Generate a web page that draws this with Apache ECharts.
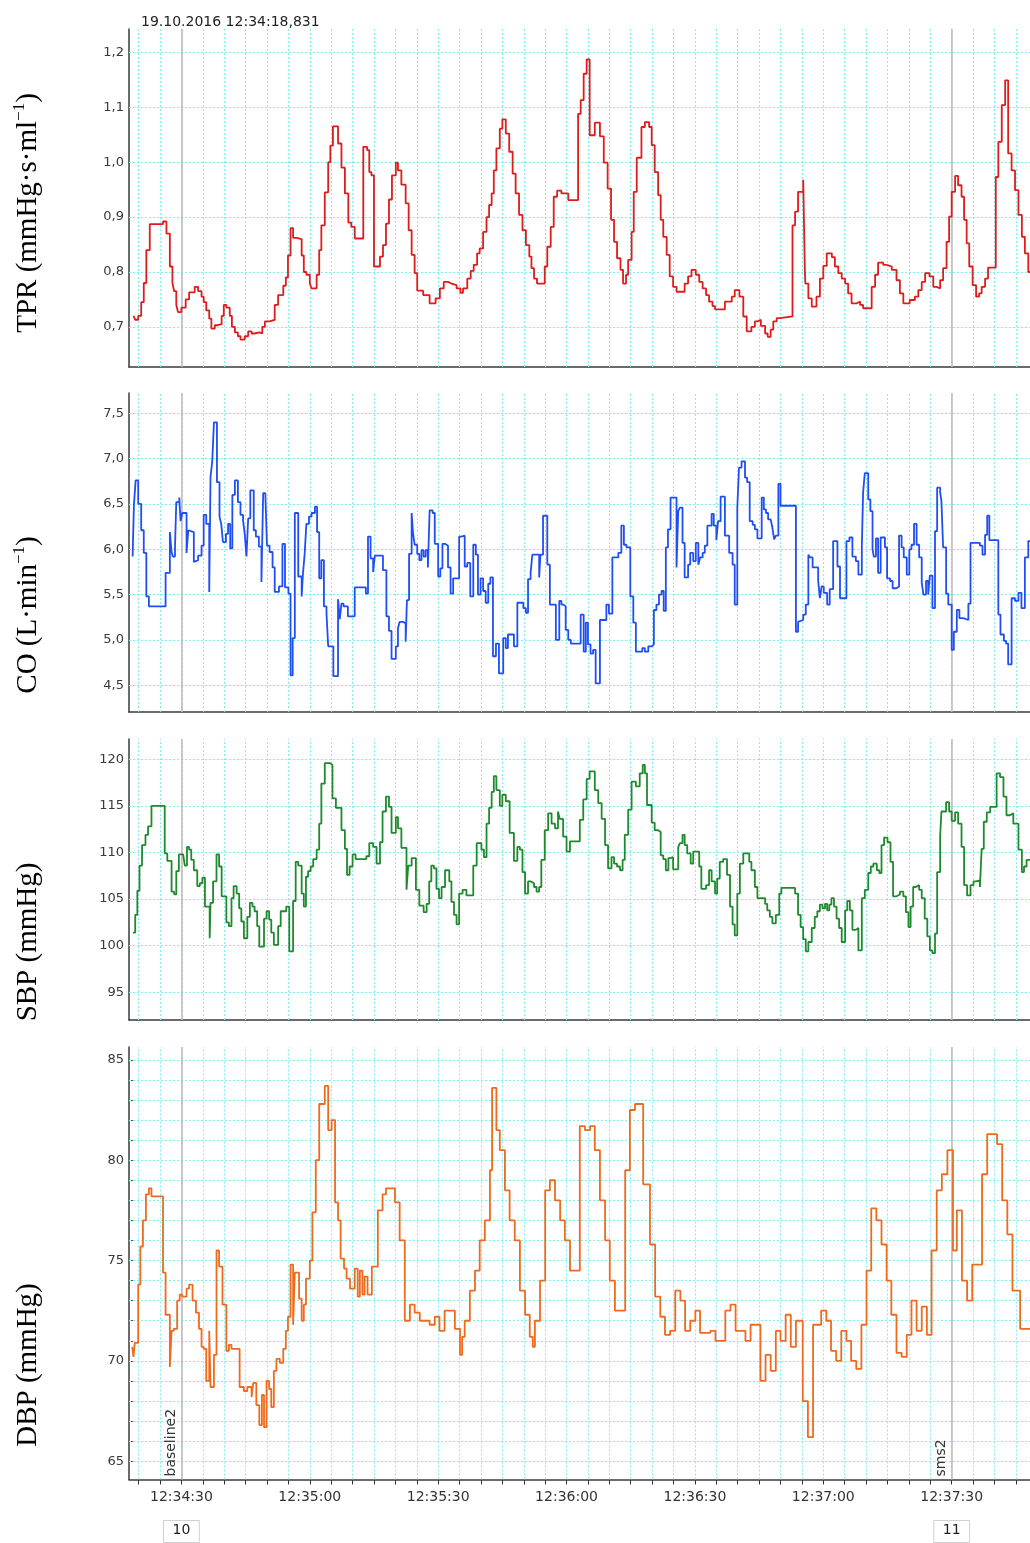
<!DOCTYPE html>
<html><head><meta charset="utf-8">
<script src="https://cdn.jsdelivr.net/npm/echarts@6/dist/echarts.min.js"></script>
<style>html,body{margin:0;padding:0;background:#fff}#c{width:1030px;height:1543px}</style>
</head><body><div id="c"></div>
<script>
// time axis: seconds after 12:34:00
const headerText = '19.10.2016 12:34:18,831';
const xMin = 17.75, xMax = 228.3;
const xTickSeconds = [20,25,30,35,40,45,50,55,60,65,70,75,80,85,90,95,100,105,110,115,120,125,130,135,140,145,150,155,160,165,170,175,180,185,190,195,200,205,210,215,220,225];
const xLabelSeconds = [30,60,90,120,150,180,210];
const eventTimes = [30,210];
const eventNames = ['baseline2','sms2'];
const eventIds = ['10','11'];

const tprTicks = [0.7,0.8,0.9,1.0,1.1,1.2];
const coTicks = [4.5,5.0,5.5,6.0,6.5,7.0,7.5];
const sbpTicks = [95,100,105,110,115,120];
const dbpTicks = [65,70,75,80,85];
const dbpMinorTicks = [65,66,67,68,69,70,71,72,73,74,75,76,77,78,79,80,81,82,83,84,85];

const tprData = [[18.8,0.72],[19.2,0.713],[19.9,0.72],[20.6,0.745],[21.2,0.78],[21.8,0.84],[22.6,0.887],[25.7,0.892],[26.5,0.87],[27.3,0.81],[27.9,0.78],[28.3,0.765],[28.8,0.74],[29.2,0.727],[30,0.735],[31,0.75],[31.8,0.763],[33.1,0.773],[33.9,0.765],[34.7,0.755],[35.2,0.745],[35.8,0.73],[36.5,0.715],[37,0.697],[37.8,0.703],[38.3,0.705],[39.4,0.72],[39.9,0.74],[40.5,0.735],[41.3,0.72],[41.8,0.70],[42.5,0.69],[43.2,0.683],[43.8,0.677],[44.8,0.683],[45.6,0.692],[46.4,0.688],[47.1,0.69],[48.3,0.688],[48.9,0.70],[49.5,0.71],[50.6,0.713],[51.8,0.74],[52.6,0.758],[53.8,0.775],[54.4,0.79],[54.9,0.83],[55.5,0.88],[56.1,0.862],[56.9,0.86],[58.1,0.83],[58.6,0.80],[59.2,0.795],[60,0.78],[60.4,0.77],[61.6,0.795],[62.2,0.84],[62.7,0.885],[63.5,0.945],[64.3,1.0],[64.8,1.03],[65.4,1.065],[66.6,1.034],[67.4,0.99],[68.2,0.943],[69,0.89],[69.7,0.882],[70.5,0.861],[72.5,1.028],[73.4,1.022],[73.9,0.982],[74.4,0.976],[75,0.81],[76.4,0.828],[77.1,0.849],[77.8,0.888],[78.5,0.932],[79.2,0.976],[80.1,0.999],[80.6,0.985],[81.4,0.959],[82.4,0.925],[83.1,0.876],[83.8,0.831],[84.5,0.798],[85.1,0.766],[86.5,0.758],[88,0.743],[89.4,0.752],[90.4,0.77],[91.3,0.782],[92.3,0.779],[93.1,0.776],[94.3,0.77],[95.2,0.762],[95.8,0.77],[96.8,0.788],[97.6,0.802],[98.3,0.813],[99.1,0.834],[99.7,0.843],[100.5,0.873],[101.3,0.9],[101.9,0.922],[102.5,0.943],[103,0.985],[103.6,1.025],[104.4,1.061],[105,1.078],[105.8,1.052],[106.6,1.019],[107.4,0.979],[108.1,0.943],[108.9,0.904],[109.7,0.876],[110.5,0.849],[111.3,0.828],[111.8,0.807],[112.4,0.788],[113.1,0.779],[114.9,0.81],[115.5,0.846],[116.3,0.882],[117,0.937],[117.8,0.948],[118.8,0.943],[120.4,0.931],[122.7,1.088],[123.3,1.113],[124,1.161],[124.7,1.187],[125.4,1.049],[126.6,1.072],[127.8,1.047],[128.7,0.999],[129.6,0.952],[130.4,0.895],[131.1,0.855],[131.8,0.825],[132.6,0.804],[133.2,0.779],[133.9,0.795],[134.4,0.822],[135.2,0.873],[135.7,0.946],[136.4,1.008],[137.5,1.064],[138.3,1.073],[139.3,1.064],[139.9,1.031],[140.6,0.982],[141.4,0.94],[142,0.895],[142.6,0.864],[143.4,0.831],[144.1,0.792],[144.9,0.773],[145.7,0.764],[147.6,0.779],[148.4,0.792],[149.2,0.804],[150.2,0.795],[151,0.782],[151.8,0.77],[152.6,0.758],[153.3,0.746],[154.1,0.738],[154.7,0.732],[157,0.746],[158.6,0.755],[159.3,0.767],[160.4,0.755],[161.3,0.719],[162.1,0.692],[163.2,0.70],[164,0.71],[164.6,0.713],[165.4,0.702],[166.4,0.688],[167,0.682],[167.7,0.695],[168.3,0.71],[169.1,0.716],[169.9,0.719],[172.8,0.885],[173.4,0.91],[174.1,0.946],[175.3,0.968],[175.7,0.798],[175.8,0.779],[176.5,0.752],[177.3,0.737],[178.4,0.755],[179.2,0.788],[180,0.811],[180.8,0.834],[182,0.827],[182.7,0.81],[183.5,0.798],[184.3,0.788],[185.1,0.779],[185.8,0.761],[186.6,0.743],[187.8,0.746],[188.6,0.74],[189.3,0.734],[191.3,0.773],[192.1,0.795],[192.8,0.817],[194,0.813],[194.8,0.81],[196,0.804],[197.1,0.785],[197.9,0.761],[198.7,0.743],[200.2,0.749],[201.4,0.755],[202.2,0.767],[203,0.782],[203.8,0.798],[204.8,0.792],[205.7,0.773],[206.5,0.77],[207.3,0.785],[208,0.807],[208.8,0.855],[209.4,0.901],[210,0.946],[210.8,0.975],[211.5,0.958],[212.3,0.937],[212.9,0.895],[213.5,0.852],[214.1,0.81],[214.9,0.776],[215.7,0.755],[216.4,0.761],[217,0.773],[217.8,0.788],[218.5,0.808],[220.3,0.973],[220.9,1.037],[221.7,1.104],[222.5,1.149],[223.2,1.016],[224,0.985],[224.8,0.949],[225.6,0.904],[226.4,0.864],[227.1,0.834],[227.9,0.80],[228.5,0.80]];

const coData = [[18.6,5.92],[18.9,6.49],[19.3,6.76],[19.9,6.5],[20.6,6.21],[21.2,5.96],[21.8,5.48],[22.4,5.37],[26.3,5.74],[27.3,6.19],[27.7,5.97],[28.0,5.92],[28.5,6.03],[28.8,6.52],[29.5,6.57],[29.8,6.31],[30.2,6.4],[31.2,5.96],[31.6,6.21],[32,6.19],[32.9,5.86],[33.3,5.88],[33.9,5.93],[34.7,6.04],[35.2,6.38],[35.8,6.28],[36.5,5.53],[36.8,6.8],[37.2,6.97],[37.6,7.4],[38.3,6.74],[38.9,6.36],[39.3,6.28],[39.7,6.08],[40.4,6.17],[40.9,6.28],[41.4,6.01],[41.9,6.6],[42.5,6.76],[43.2,6.52],[43.8,6.38],[44.4,6.32],[44.8,6.17],[45.2,5.92],[45.6,6.34],[46.1,6.65],[46.9,6.21],[47.4,6.14],[48.1,6.03],[48.7,5.64],[49.1,6.62],[49.6,6.6],[50,6.04],[50.6,5.97],[51.3,5.8],[51.8,5.53],[52.8,5.59],[53.6,6.06],[54.2,5.58],[55,5.51],[55.5,4.61],[56,5.02],[56.5,6.4],[57.3,5.7],[58.1,5.48],[58.4,5.73],[58.8,5.95],[59.2,6.28],[59.8,6.36],[60.4,6.4],[61.2,6.47],[61.7,6.19],[62.2,5.68],[62.7,5.88],[63.3,5.37],[63.9,5.29],[64.3,4.93],[65.5,4.6],[66.6,5.45],[67,5.23],[67.4,5.4],[67.9,5.37],[68.9,5.26],[70.5,5.58],[73.1,5.51],[73.6,6.14],[74.2,5.9],[74.8,5.75],[75.2,5.93],[77.1,5.77],[77.9,5.26],[78.5,5.1],[79.1,4.79],[80.1,4.93],[80.6,5.13],[81,5.2],[81.8,5.18],[82.4,4.98],[82.7,5.44],[83.2,5.95],[83.8,6.4],[84.1,6.19],[84.5,6.05],[85.1,5.95],[85.6,5.88],[86.1,5.99],[86.6,5.92],[87.1,5.99],[87.6,5.8],[88,6.43],[88.7,6.4],[89.2,6.06],[90,5.7],[90.5,5.79],[91,6.06],[91.6,6.04],[92.3,5.8],[92.9,5.51],[93.5,5.68],[94.9,6.14],[95.4,6.15],[96.2,5.81],[96.8,5.85],[97.5,5.48],[98.2,6.05],[98.8,5.94],[99.3,5.5],[99.9,5.68],[100.5,5.54],[101.1,5.41],[101.7,5.62],[102.2,5.69],[102.8,4.82],[103.5,4.96],[104.2,4.63],[105.2,5.02],[105.8,4.91],[106.3,5.06],[107.7,4.93],[108.5,5.41],[109.9,5.35],[110.5,5.3],[111,5.67],[111.6,5.74],[112,5.94],[113.6,5.69],[113.9,5.94],[114.5,6.37],[115.5,5.83],[116.1,5.39],[117.5,5.0],[118.3,5.43],[118.8,5.39],[119.3,5.37],[119.8,5.11],[120.4,5.0],[121,4.96],[123.3,5.28],[124,4.87],[124.5,5.19],[125,4.95],[125.6,4.85],[126.2,4.89],[126.8,4.52],[127.8,5.22],[129.3,5.39],[129.9,5.29],[130.7,5.91],[132.1,5.96],[132.8,6.26],[133.4,6.05],[134,6.02],[134.9,5.48],[135.6,5.19],[136.2,4.87],[137.7,4.91],[138.3,4.87],[139.1,4.93],[139.9,4.95],[140.4,5.33],[141,5.39],[141.6,5.5],[142.2,5.54],[142.7,5.32],[143.2,6.02],[143.7,6.22],[144.3,6.57],[145.7,5.8],[146.1,6.42],[146.5,6.46],[147.1,6.07],[147.6,5.69],[148.4,5.83],[148.9,5.96],[149.6,5.87],[150.2,6.07],[150.8,5.83],[151.2,5.91],[151.8,5.96],[152.3,6.04],[152.9,6.26],[153.9,6.39],[154.4,6.26],[155,6.1],[155.4,6.31],[156,6.58],[157,6.15],[158,5.96],[158.8,5.83],[159.3,5.39],[159.9,6.46],[160.3,6.9],[160.9,6.97],[161.7,6.79],[162.2,6.74],[162.8,6.31],[163.5,6.27],[164,6.22],[164.6,6.12],[165.6,6.57],[166.1,6.44],[166.6,6.4],[167.1,6.33],[167.7,6.31],[168.1,6.24],[168.5,6.11],[168.9,6.15],[169.5,6.72],[170,6.48],[173.6,5.09],[174.1,5.2],[174.5,5.22],[175.3,5.28],[175.9,5.39],[176.5,5.94],[176.9,5.91],[177.5,5.8],[178.8,5.65],[179.2,5.46],[179.6,5.59],[180.1,5.52],[180.9,5.39],[181.5,5.56],[182.3,6.09],[183.3,5.81],[183.9,5.46],[185.4,6.09],[186.1,6.13],[186.8,5.92],[187.6,5.87],[188.2,5.72],[189,6.02],[189.3,6.63],[189.7,6.84],[190.5,6.55],[191,6.42],[191.5,6.0],[191.8,5.92],[192.3,6.12],[192.8,5.74],[193.4,6.13],[194.4,6.02],[194.9,5.68],[195.6,5.65],[196.2,5.57],[197.1,5.59],[197.7,6.15],[198.3,6.02],[198.8,5.91],[199.5,5.72],[200.1,6.0],[200.6,6.05],[201.2,6.28],[201.8,6.05],[202.4,5.91],[203,5.63],[203.4,5.5],[204,5.65],[204.5,5.5],[204.9,5.71],[205.5,5.35],[206.1,6.2],[206.6,6.68],[207.3,6.63],[207.6,6.53],[208,6.02],[208.7,5.51],[209.2,5.39],[210,4.89],[210.5,5.09],[211.2,5.33],[211.8,5.24],[212.7,5.22],[213.9,5.4],[214.4,6.07],[216.6,6.04],[217.2,5.94],[217.8,6.16],[218.3,6.37],[218.8,6.1],[220.9,5.28],[221.4,5.06],[222.2,4.99],[222.7,4.96],[223.2,4.73],[224,5.46],[224.8,5.43],[225.6,5.52],[226.3,5.35],[227.1,5.91],[227.9,6.09],[228.5,6.09]];

const sbpData = [[18.7,101.4],[19.2,103.3],[19.7,105.9],[20.2,108.6],[20.8,110.8],[21.6,111.9],[22.2,112.8],[23,115],[26.1,109.9],[26.7,109.1],[27.7,105.8],[28.3,105.5],[28.8,108],[29.4,109.8],[30.4,109.6],[30.8,108.6],[31.3,110.6],[31.8,110.3],[32.3,109.2],[32.9,108.1],[33.7,106.4],[34.3,106.7],[34.9,107.3],[35.5,104.2],[36.6,100.8],[36.8,104.6],[37.4,106.9],[38.2,109.8],[38.8,108.5],[39.4,105.3],[40.5,102.5],[41.1,102.1],[41.7,105.1],[42.2,106.4],[42.9,105.6],[43.5,104],[44,102.6],[44.6,100.8],[45.4,103.1],[46,104.6],[46.6,104.2],[47.1,103.7],[47.7,102.1],[48.2,99.9],[49.3,102.9],[49.9,103.7],[50.5,102.8],[51,101.4],[51.6,100.1],[52.6,102.1],[53.2,103.7],[54.5,104.2],[55.2,99.4],[56.1,104.8],[56.7,109],[57.3,108.6],[58.1,105.6],[58.6,104.2],[59.1,107.4],[59.6,108],[60.2,108.5],[60.8,109.3],[61.6,110.3],[62.2,113.1],[62.7,117.4],[63.5,119.6],[64.7,119.4],[65.3,115.8],[66.1,114.8],[67.4,112.4],[68.2,110.4],[68.7,107.6],[69.3,108.5],[70,109.8],[70.7,109.3],[73.2,109.6],[73.9,111],[74.8,110.6],[75.6,108.8],[76.4,111.1],[77,114.4],[77.8,116],[78.5,114.9],[79.1,112.1],[80.1,113.8],[80.6,112.6],[81.4,110.5],[82.6,106],[83,108.6],[83.8,109.4],[84.8,106],[85.6,104.3],[86.6,103.6],[87.3,104.5],[87.9,106.9],[88.4,108.6],[89,108.3],[89.6,106.1],[90.2,105.1],[90.8,106.3],[91.6,108.1],[92.6,106.9],[93.1,104.7],[93.7,103.3],[94.3,102.3],[94.9,105.6],[95.7,106],[96.6,105.4],[98.2,108.6],[99,111],[100.1,110.3],[100.7,109.5],[101.3,113.1],[101.9,114.8],[102.5,116.5],[103,118.2],[103.6,116.7],[104.4,115],[105,116.2],[105.8,115.5],[106.7,112.1],[107.7,109.1],[108.5,110.6],[109.1,110.3],[109.7,107.9],[110.3,105.6],[111,106.9],[111.6,106.7],[112.4,106.3],[113,105.8],[113.6,106.3],[114.1,109.2],[114.9,112.4],[115.7,114.2],[116.5,113.1],[117.3,112.6],[118,114.4],[118.4,113.6],[119.2,111.7],[120,110.1],[120.8,111.2],[123.1,113.5],[123.9,115.7],[124.7,117.9],[125.4,118.7],[126.6,116.7],[127.4,115.3],[128.2,113.6],[129,110.8],[129.7,108.3],[130.5,109.5],[131.1,108.8],[131.8,108.5],[132.5,108.1],[133.1,109.2],[133.6,111.9],[134.4,114.6],[135.2,117.6],[136.2,117.1],[137.1,118.5],[137.8,119.4],[138.3,118.5],[138.8,115.1],[139.9,113.2],[140.6,112.4],[141.4,112.2],[142,109.7],[142.6,109.3],[143.2,108.1],[143.8,109.4],[144.3,109.5],[144.9,108.2],[146.1,110.6],[146.5,111],[147.1,111.9],[147.6,110.8],[148.2,109.9],[149,108.8],[149.6,110.1],[151,108.5],[151.5,106.1],[152.6,106.5],[153.3,108.1],[153.9,106.9],[154.7,105.6],[155.2,107.2],[155.8,109],[156.6,109.3],[157.5,107.6],[158.2,104.2],[158.8,102.3],[159.3,101.1],[159.9,105.6],[160.5,108.8],[161.3,109.9],[162.7,109],[163.2,108.1],[164,106.3],[164.6,105.1],[166.4,104.5],[166.9,103.8],[167.5,103.1],[168.1,102.4],[168.9,103.3],[169.7,105.6],[170.2,106.2],[173.4,105.6],[174.1,103.3],[174.7,102],[175.3,100.7],[175.9,99.4],[176.5,100.4],[177.3,101.9],[178,103.1],[178.6,103.7],[179.2,104.4],[179.8,104],[180.4,104.5],[180.9,103.8],[181.4,104.4],[181.9,105.1],[182.5,104.2],[183.1,102.9],[183.7,101.9],[184.3,100.4],[185.1,103.8],[185.6,104.8],[186.2,103.8],[186.8,101.7],[187.6,101.9],[188.2,99.5],[189,105.1],[189.7,106],[190.5,107.8],[191.1,108.5],[191.7,108.8],[192.5,108.1],[193.1,107.8],[193.6,110.8],[194.2,111.6],[195,111.1],[195.7,109],[196.3,105.3],[197.1,105.5],[197.9,105.8],[198.7,105.3],[199.3,103.6],[199.9,102],[200.4,104.2],[201,106.3],[201.6,106.5],[202.4,106],[203,105.1],[203.7,102.9],[204.3,101],[204.9,99.5],[205.5,99.2],[206.1,101.3],[206.6,107.9],[207.3,111.7],[207.6,114.4],[208.7,115.4],[209.4,114.4],[210,113.4],[210.8,114.3],[211.5,113.1],[212.3,110.6],[212.9,106.5],[213.6,105.4],[214.4,106.5],[215.1,106.9],[215.7,107],[216.6,106.3],[217,110.4],[217.5,113.3],[218.2,114.3],[219,114.9],[220.5,118.5],[221.3,118.1],[222.1,116],[222.8,114],[223.6,114.2],[224.4,113.1],[225.6,110.3],[226.4,107.9],[226.9,108.5],[227.5,109.2],[228.5,109.2]];

const dbpData = [[18.5,70.7],[18.8,70.2],[19.1,70.9],[19.9,73.8],[20.4,75.7],[21,77],[21.7,78.3],[22.4,78.6],[23,78.2],[25.7,74.4],[26.3,72.3],[27.3,69.7],[27.7,71.5],[28.2,71.6],[29,73],[29.6,73.3],[30.2,73.2],[31.2,73.6],[31.8,73.8],[32.6,73],[33.4,72.4],[34.1,71.6],[34.7,70.7],[35.2,70.6],[35.8,69],[36.5,71.5],[36.8,68.7],[37.6,70.3],[38.2,75.5],[38.8,74.7],[39.6,72.8],[40.5,70.5],[41.1,70.8],[41.7,70.6],[43.6,68.7],[44.6,68.5],[45.4,68.7],[46.4,68.2],[46.8,68.9],[47.5,67.8],[48.2,66.8],[48.8,68.3],[49.3,66.7],[49.9,69],[50.5,68.6],[51,67.7],[51.6,69.5],[52.2,70.1],[53,69.9],[53.8,70.6],[54.4,71.5],[54.9,72.2],[55.5,74.8],[56.1,71.8],[56.5,74.4],[57.5,73.1],[58.1,72],[58.6,72.8],[59.1,74.1],[60,75],[60.6,77.4],[61.4,80],[62.2,82.8],[63.5,83.7],[64.3,81.5],[65.1,82],[65.9,77.9],[66.6,77],[67.2,75.1],[68,74.6],[68.6,74.1],[69.4,73.6],[70.5,74.6],[71.2,73.2],[71.7,74.5],[72.3,73.3],[72.8,74.2],[73.5,73.3],[74.5,74.7],[75.9,77.5],[77,78.3],[77.8,78.6],[79.9,77.9],[81,76],[82.2,72],[83.4,72.8],[84.5,72.4],[85.7,72],[88,71.8],[89.2,72.2],[90.3,71.5],[91.5,72.5],[93.9,71.6],[95.1,70.3],[95.6,71.2],[96.2,72],[97.4,73.5],[98.6,74.5],[99.7,76],[100.9,77],[102.1,79.5],[102.6,83.6],[103.6,81.5],[104.4,80.5],[105.6,78.5],[106.7,77],[107.9,76],[109.1,73.5],[110.3,72.3],[111.4,71.2],[112.1,70.7],[112.6,72],[113.8,74],[115,78.5],[116.1,79],[117.3,78],[118.5,77],[119.6,76],[120.8,74.5],[123.1,81.7],[124.3,81.5],[125.5,81.7],[126.6,80.5],[127.8,78],[129,76],[130.1,74],[131.3,72.5],[132.5,72.5],[133.7,79.5],[134.8,82.5],[136,82.8],[137.9,78.8],[139.5,75.8],[140.7,73.2],[141.9,72.2],[143,71.3],[144.2,71.5],[145.4,73.5],[146.6,73],[147.7,71.5],[148.9,72],[150.1,72.5],[151.2,71.4],[153.6,71.5],[154.8,71],[157.1,72.5],[158.3,72.8],[159.5,71.5],[161.8,71],[163,71.8],[165.3,69],[166.5,70.3],[167.7,69.5],[168.9,71.5],[170,71],[171.2,72.3],[172.4,70.7],[173.6,72],[175.2,68],[176.4,66.2],[177.6,71.8],[179.5,72.5],[180.7,72],[181.8,70.5],[183,70],[184.2,71.5],[185.4,71],[186.5,70],[187.7,69.6],[188.9,71.8],[190.1,74.5],[191.2,77.6],[192.4,77],[193.6,75.8],[194.8,74],[195.9,72.3],[197.1,70.4],[198.3,70.2],[199.5,71.3],[200.6,73],[201.8,71.5],[203,72.7],[204.2,71.3],[205.3,75.5],[206.5,78.5],[207.7,79.3],[209,80.5],[210.3,75.5],[211.2,77.5],[212.4,74],[213.6,73],[214.8,74.8],[217.1,79.3],[218.3,81.3],[220.6,80.8],[221.8,78],[223,76.3],[224.2,73.5],[226,71.6],[228.5,71.6]];

const panels = [
  {name:'{a|TPR (mmHg·s·ml}{s|−1}{a|)}', data:tprData, color:'#e01b1b', min:0.627, max:1.2425, ticks:tprTicks, hLines:tprTicks, dec:1, grid:{top:29,height:338}, titleY:213},
  {name:'{a|CO (L·min}{s|−1}{a|)}', data:coData, color:'#1f4ef5', min:4.205, max:7.724, ticks:coTicks, hLines:coTicks, dec:1, grid:{top:393,height:319}, titleY:615},
  {name:'{a|SBP (mmHg)}', data:sbpData, color:'#1e8a2e', min:92.03, max:122.18, ticks:sbpTicks, hLines:sbpTicks, dec:0, grid:{top:739,height:281}, titleY:942},
  {name:'{a|DBP (mmHg)}', data:dbpData, color:'#f06a1c', min:64.09, max:85.64, ticks:dbpTicks, hLines:dbpMinorTicks, dec:0, grid:{top:1047,height:435}, titleY:1365}
];

function timeLabel(s){
  const tot = 34*60 + s;
  const m = Math.floor(tot/60), sec = Math.round(tot - m*60);
  return '12:' + String(m).padStart(2,'0') + ':' + String(sec).padStart(2,'0');
}

const GRID_COLOR = '#84eef6';
const SERIF = '"Liberation Serif", "DejaVu Serif", serif';
const grids = [], xAxes = [], yAxes = [], series = [], graphics = [];
panels.forEach((p, i) => {
  grids.push({left:129, right:0, top:p.grid.top, height:p.grid.height});
  const last = i === panels.length - 1;
  xAxes.push({
    gridIndex:i, type:'value', min:xMin, max:xMax,
    axisLine:{show:true, onZero:false, lineStyle:{color:'#3a3a3a', width:1.5}},
    axisTick:{show:last, customValues:xTickSeconds, length:5, lineStyle:{color:'#333'}},
    axisLabel:{show:last, customValues:xLabelSeconds, formatter:timeLabel, color:'#333', fontSize:14, fontFamily:'DejaVu Sans', margin:11},
    splitLine:{show:false}
  });
  yAxes.push({
    gridIndex:i, type:'value', min:p.min, max:p.max,
    axisLine:{show:true, onZero:false, lineStyle:{color:'#3a3a3a', width:1.5}},
    axisTick:{show:last, inside:true, length:4, customValues:dbpMinorTicks, lineStyle:{color:'#555'}},
    axisLabel:{customValues:p.ticks, formatter:v => v.toFixed(p.dec).replace('.', ','), color:'#3a3a3a', fontSize:13, fontFamily:'DejaVu Sans', margin:5},
    splitLine:{show:false}
  });
  const gridLines = [];
  xTickSeconds.forEach(v => gridLines.push({xAxis:v}));
  p.hLines.forEach(v => gridLines.push({yAxis:v}));
  series.push({
    type:'line', xAxisIndex:i, yAxisIndex:i, data:[], z:1, silent:true, animation:false,
    markLine:{silent:true, symbol:['none','none'], animation:false, label:{show:false},
      lineStyle:{color:GRID_COLOR, type:[2,2], width:1}, data:gridLines}
  });
  series.push({
    type:'line', xAxisIndex:i, yAxisIndex:i, data:[], z:2, silent:true, animation:false,
    markLine:{silent:true, symbol:['none','none'], animation:false,
      lineStyle:{color:'#b8b8b8', type:'solid', width:1.5},
      label:{show:last, position:'insideStartTop', formatter:(d) => eventNames[eventTimes.indexOf(d.value)], color:'#333', fontSize:14, fontFamily:'DejaVu Sans', distance:3},
      data:eventTimes.map(t => ({xAxis:t}))}
  });
  series.push({
    type:'line', xAxisIndex:i, yAxisIndex:i, data:p.data, step:'end', showSymbol:false, z:5,
    lineStyle:{color:p.color, width:1.8}, animation:false, silent:true, clip:true
  });
  graphics.push({type:'text', x:28, y:p.titleY, rotation:Math.PI/2,
    style:{text:p.name, fill:'#000', align:'center', verticalAlign:'middle',
      rich:{a:{fontSize:29, fontFamily:SERIF, lineHeight:34, fill:'#000'},
            s:{fontSize:17, fontFamily:SERIF, lineHeight:17, verticalAlign:'top', fill:'#000'}}}});
});
// event number boxes below the time axis
xAxes.push({
  gridIndex:3, type:'value', min:xMin, max:xMax, position:'bottom', offset:41,
  axisLine:{show:false}, axisTick:{show:false}, splitLine:{show:false},
  axisLabel:{customValues:eventTimes, formatter:v => eventIds[eventTimes.indexOf(v)], color:'#222', fontSize:14, fontFamily:'DejaVu Sans', borderColor:'#d0d0d0', borderWidth:1, padding:[3,9,5,9], margin:0}
});

const chart = echarts.init(document.getElementById('c'), null, {renderer:'canvas'});
chart.setOption({
  animation:false,
  backgroundColor:'#fff',
  title:{text:headerText, left:136, top:10, textStyle:{fontSize:14, fontWeight:'normal', color:'#222', fontFamily:'DejaVu Sans'}},
  grid:grids, xAxis:xAxes, yAxis:yAxes, series:series, graphic:graphics
});
</script></body></html>
